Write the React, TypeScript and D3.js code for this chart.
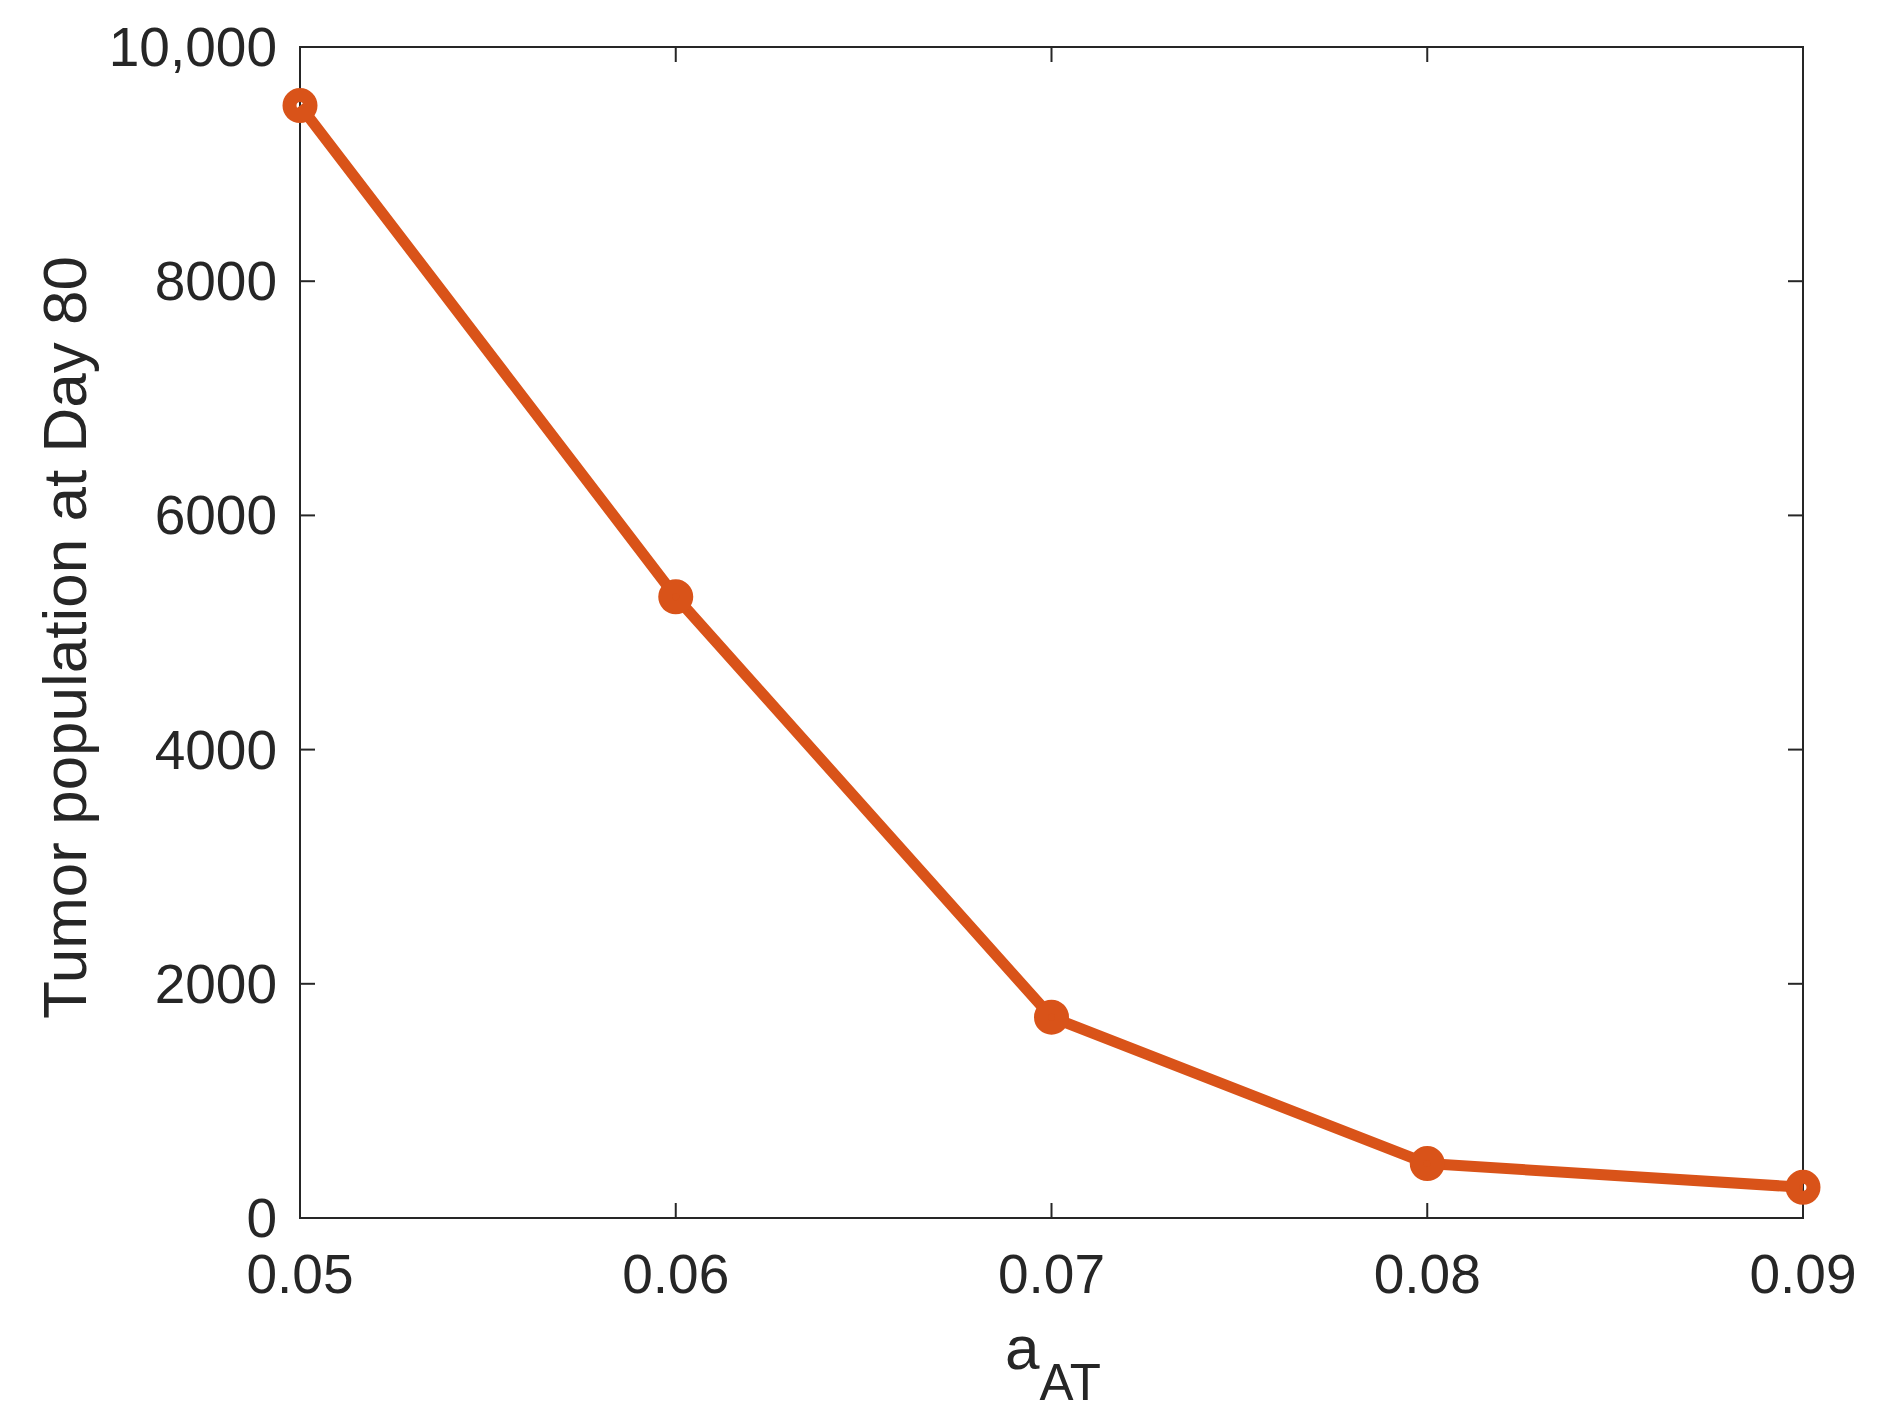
import React from "react";
import * as d3 from "d3";

const xValues = [0.05, 0.06, 0.07, 0.08, 0.09];
const yValues = [9500, 5305, 1715, 465, 262];
const xTicks = [0.05, 0.06, 0.07, 0.08, 0.09];
const xTickLabels = ["0.05", "0.06", "0.07", "0.08", "0.09"];
const yTicks = [0, 2000, 4000, 6000, 8000, 10000];
const yTickLabels = ["0", "2000", "4000", "6000", "8000", "10,000"];

const W = 1880;
const H = 1423;
const L = 300, R = 1803, T = 47, B = 1218;
const axisColor = "#262626";
const lineColor = "#D95319";
const font = "'Liberation Sans', Arial, Helvetica, sans-serif";

export default function App() {
  const x = d3.scaleLinear().domain([0.05, 0.09]).range([L, R]);
  const y = d3.scaleLinear().domain([0, 10000]).range([B, T]);
  const line = d3.line<number>().x((_, i) => x(xValues[i])).y((d) => y(d));
  const tickLen = 15;
  return (
    <svg width={W} height={H} style={{ position: "absolute", left: 0, top: 0, background: "#fff" }}>
      <rect x={0} y={0} width={W} height={H} fill="#fff" />
      {xTicks.map((t, i) => (
        <g key={"xt" + i}>
          <line x1={x(t)} x2={x(t)} y1={B} y2={B - tickLen} stroke={axisColor} strokeWidth={2} />
          <line x1={x(t)} x2={x(t)} y1={T} y2={T + tickLen} stroke={axisColor} strokeWidth={2} />
          <text x={x(t)} y={1293} textAnchor="middle" fontFamily={font} fontSize={55} fill={axisColor}>
            {xTickLabels[i]}
          </text>
        </g>
      ))}
      {yTicks.map((t, i) => (
        <g key={"yt" + i}>
          <line x1={L} x2={L + tickLen} y1={y(t)} y2={y(t)} stroke={axisColor} strokeWidth={2} />
          <line x1={R} x2={R - tickLen} y1={y(t)} y2={y(t)} stroke={axisColor} strokeWidth={2} />
          <text x={277} y={y(t) + 19} textAnchor="end" fontFamily={font} fontSize={55} fill={axisColor}>
            {yTickLabels[i]}
          </text>
        </g>
      ))}
      <rect x={L} y={T} width={R - L} height={B - T} fill="none" stroke={axisColor} strokeWidth={2} />
      <path d={line(yValues) || ""} fill="none" stroke={lineColor} strokeWidth={11} strokeLinejoin="round" />
      {yValues.map((v, i) => (
        <circle key={"m" + i} cx={x(xValues[i])} cy={y(v)} r={10.5} fill="none" stroke={lineColor} strokeWidth={14} />
      ))}
      <text x={1005} y={1369} fontFamily={font} fontSize={62} fill={axisColor}>
        a
        <tspan dy={31} fontSize={51}>AT</tspan>
      </text>
      <text
        transform={`translate(86, ${(258 + 1017) / 2}) rotate(-90)`}
        textAnchor="middle"
        fontFamily={font}
        fontSize={62}
        fill={axisColor}
      >
        Tumor population at Day 80
      </text>
    </svg>
  );
}
